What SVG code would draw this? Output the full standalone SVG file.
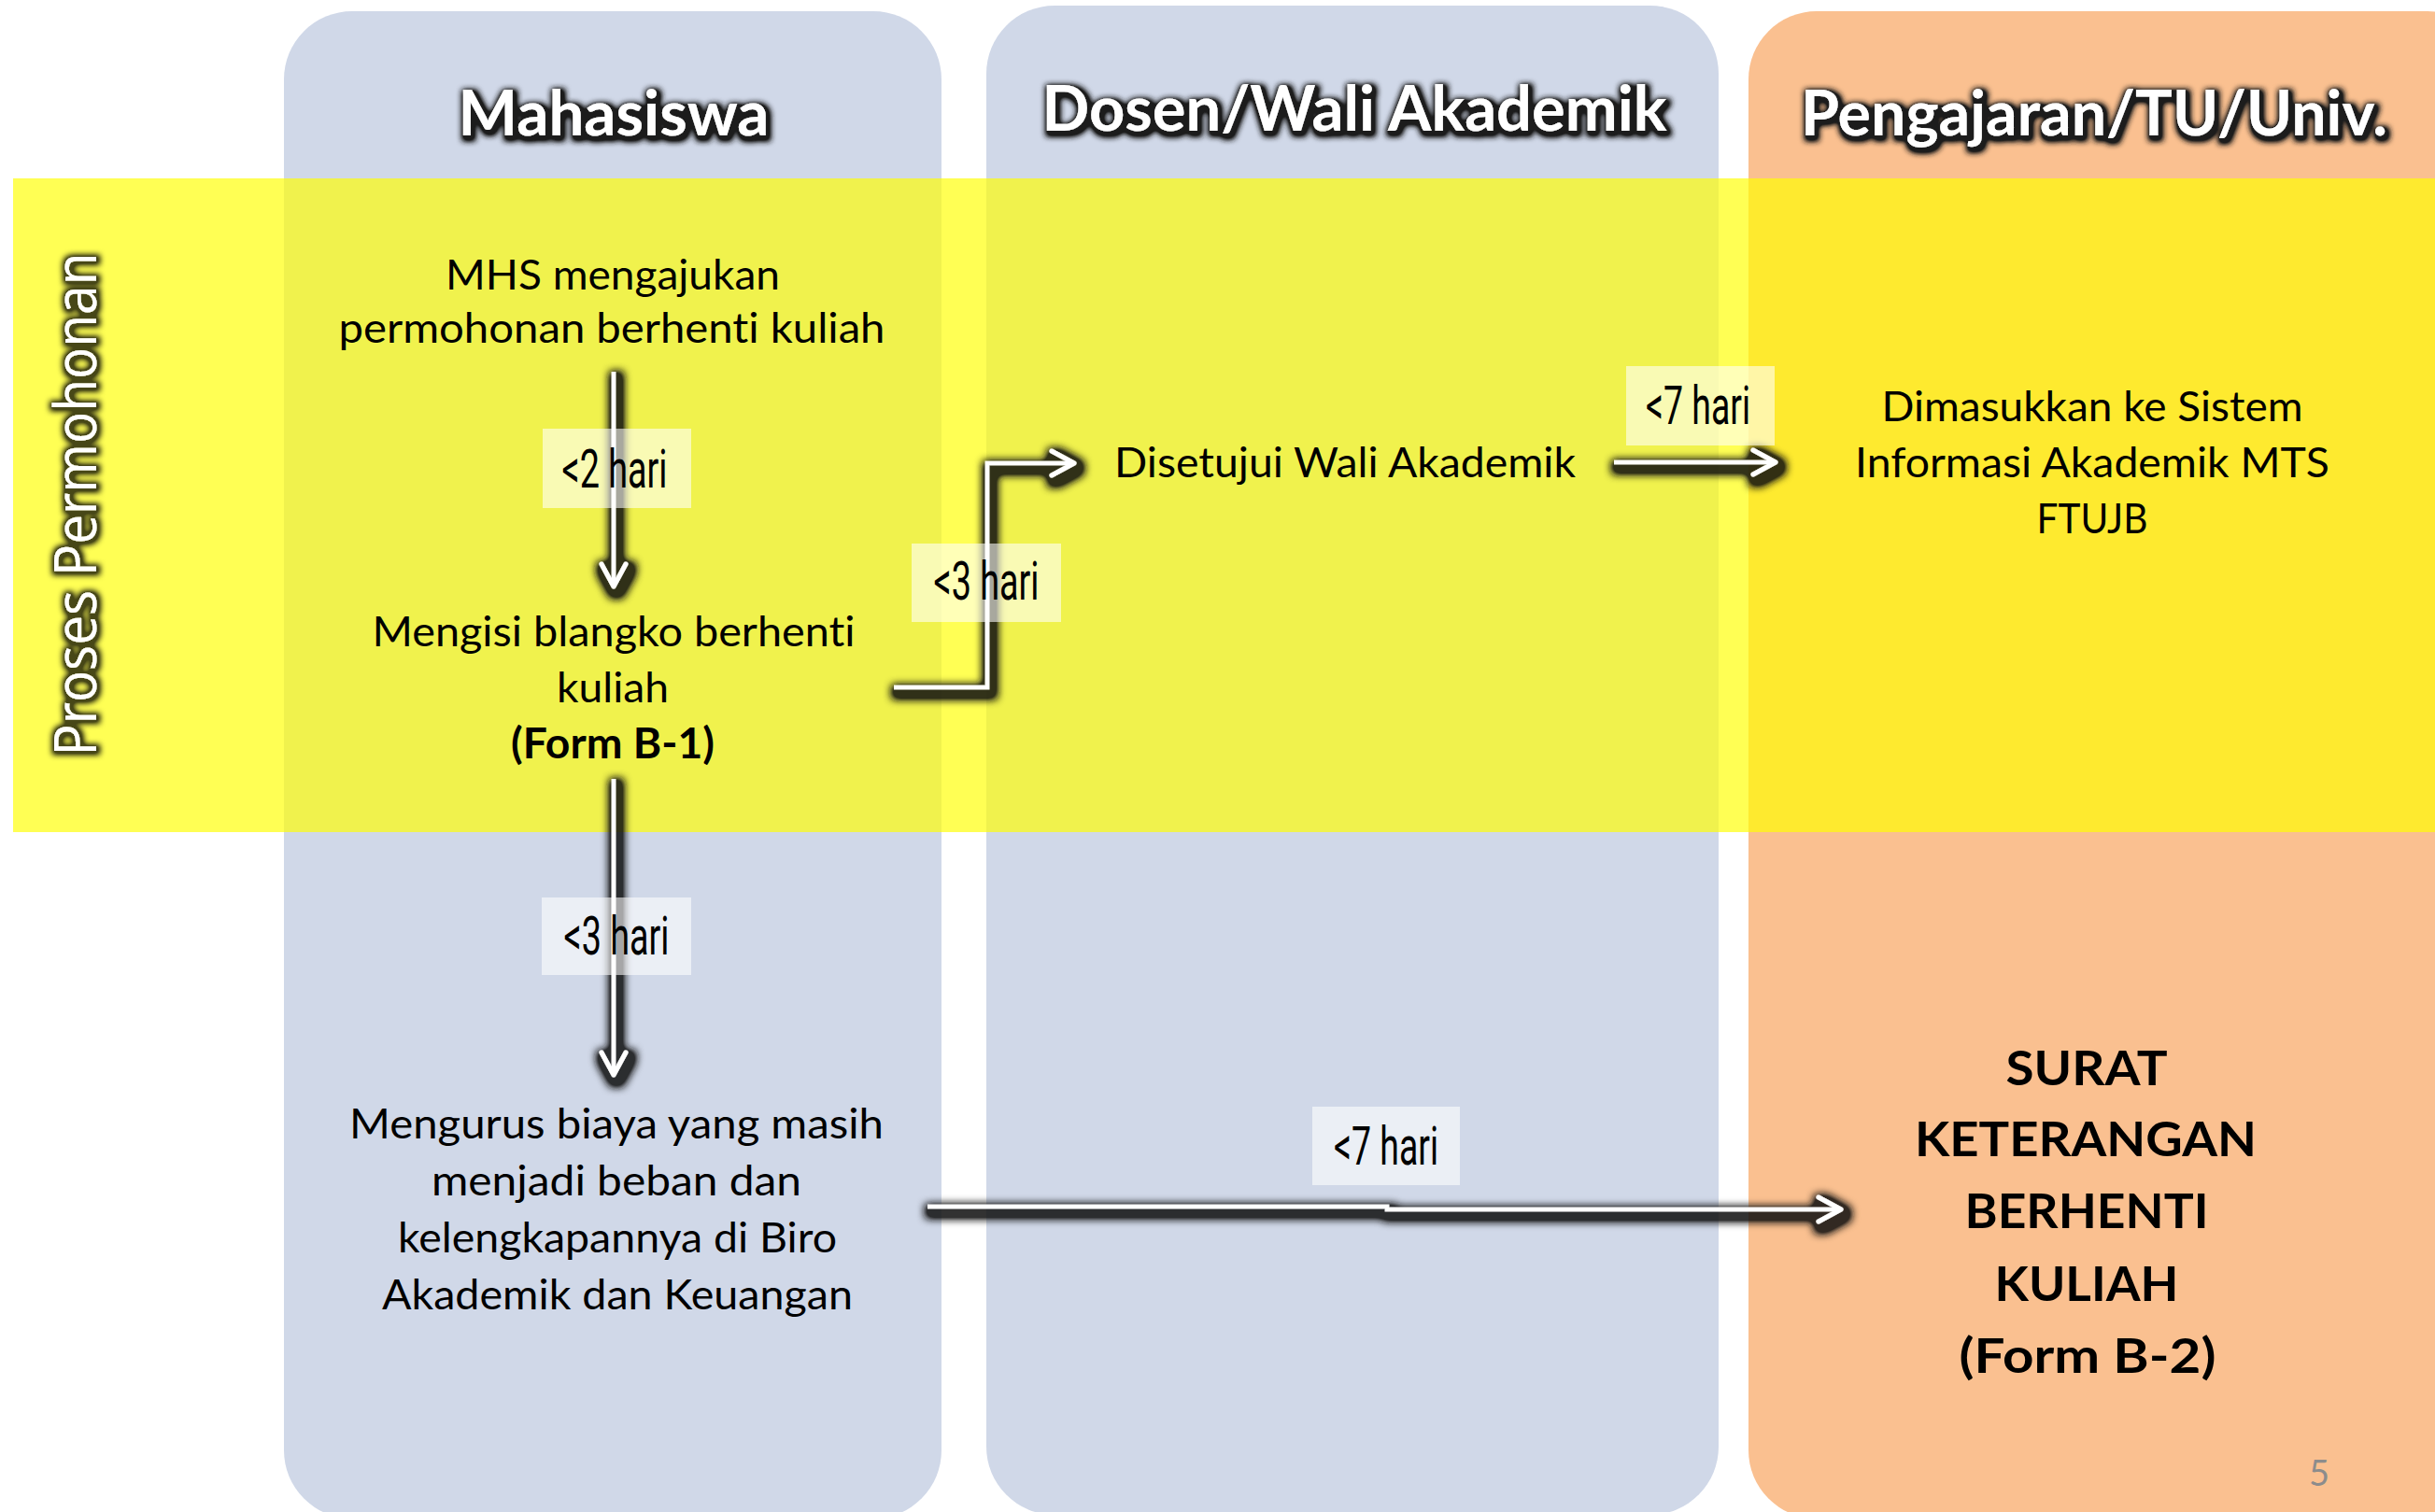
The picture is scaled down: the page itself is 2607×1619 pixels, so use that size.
<svg xmlns="http://www.w3.org/2000/svg" width="2607" height="1619" viewBox="0 0 2607 1619">
<defs>
<style>
text{font-variant-ligatures:none}
.lane-blue{fill:#D0D8E8}
.lane-orange{fill:#FAC090}
.band{fill:#FFFF00;fill-opacity:0.67}
.hdr{font-family:Lato,"Open Sans",sans-serif;font-weight:700;font-size:67px;fill:#FFFFFF;text-anchor:middle}
.side{font-family:"Open Sans","Noto Sans",sans-serif;font-size:63px;fill:#FFFFFF;text-anchor:middle}
.body{font-family:Lato,"Open Sans",sans-serif;font-size:45px;fill:#000000;text-anchor:middle}
.bold{font-weight:700}
.big{font-family:Lato,"Open Sans",sans-serif;font-weight:700;font-size:51px;fill:#000000;text-anchor:middle}
.lbl-box{fill:#FFFFFF;fill-opacity:0.58}
.lbl{font-family:"Liberation Sans Narrow",Roboto,sans-serif;font-size:57px;fill:#000000;text-anchor:middle}
.conn{fill:none;stroke:#FFFFFF;stroke-width:4.5;marker-end:url(#arr)}
.pg{font-family:Lato,"Open Sans",sans-serif;font-size:38px;fill:#8C8C8C;text-anchor:middle}
</style>
<marker id="arr" markerUnits="userSpaceOnUse" markerWidth="40" markerHeight="40" viewBox="-30 -20 40 40" refX="0" refY="0" orient="auto" overflow="visible">
<path d="M-24,-13 L0,0 L-24,13" fill="none" stroke="#FFFFFF" stroke-width="5" stroke-linecap="round" stroke-linejoin="round"/>
</marker>
<filter id="glow" filterUnits="userSpaceOnUse" x="0" y="0" width="2607" height="1619">
<feMorphology in="SourceAlpha" operator="dilate" radius="2.5" result="d"/>
<feGaussianBlur in="d" stdDeviation="3" result="b"/>
<feOffset in="b" dx="2" dy="3" result="o"/>
<feComponentTransfer in="o" result="o2"><feFuncA type="linear" slope="1.6"/></feComponentTransfer>
<feFlood flood-color="#1A1A1A" flood-opacity="1"/>
<feComposite in2="o2" operator="in" result="s"/>
<feMerge><feMergeNode in="s"/><feMergeNode in="SourceGraphic"/></feMerge>
</filter>
<filter id="sideglow" filterUnits="userSpaceOnUse" x="0" y="0" width="2607" height="1619">
<feMorphology in="SourceAlpha" operator="dilate" radius="2.5" result="d"/>
<feGaussianBlur in="d" stdDeviation="3" result="b"/>
<feOffset in="b" dx="1" dy="1" result="o"/>
<feComponentTransfer in="o" result="o2"><feFuncA type="linear" slope="1.5"/></feComponentTransfer>
<feFlood flood-color="#000000" flood-opacity="0.72"/>
<feComposite in2="o2" operator="in" result="s"/>
<feMerge><feMergeNode in="s"/><feMergeNode in="SourceGraphic"/></feMerge>
</filter>
<filter id="ashadow" filterUnits="userSpaceOnUse" x="0" y="0" width="2607" height="1619">
<feMorphology in="SourceAlpha" operator="dilate" radius="5" result="d"/>
<feGaussianBlur in="d" stdDeviation="5" result="b"/>
<feOffset in="b" dx="3" dy="5" result="o"/>
<feComponentTransfer in="o" result="o2"><feFuncA type="linear" slope="1.8"/></feComponentTransfer>
<feFlood flood-color="#111111" flood-opacity="0.85"/>
<feComposite in2="o2" operator="in" result="s"/>
<feMerge><feMergeNode in="s"/><feMergeNode in="SourceGraphic"/></feMerge>
</filter>
</defs>

<rect x="0" y="0" width="2607" height="1619" fill="#FFFFFF"/>

<g id="lane-mahasiswa">
<rect class="lane-blue" x="304" y="12" width="704" height="1614" rx="73" ry="73"/>
<text class="hdr" x="657" y="145" textLength="333" lengthAdjust="spacingAndGlyphs" filter="url(#glow)">Mahasiswa</text>
</g>
<g id="lane-dosen">
<rect class="lane-blue" x="1056" y="6" width="784" height="1616" rx="73" ry="73"/>
<text class="hdr" x="1450" y="140" textLength="669" lengthAdjust="spacingAndGlyphs" filter="url(#glow)">Dosen/Wali Akademik</text>
</g>
<g id="lane-pengajaran">
<rect class="lane-orange" x="1872" y="12" width="800" height="1614" rx="73" ry="73"/>
<text class="hdr" x="2242" y="145" textLength="628" lengthAdjust="spacingAndGlyphs" filter="url(#glow)">Pengajaran/TU/Univ.</text>
</g>

<g id="band-proses">
<rect class="band" x="14" y="191" width="2593" height="700"/>
<g filter="url(#sideglow)">
<text class="side" x="0" y="0" transform="translate(103,540) rotate(-90)" textLength="539" lengthAdjust="spacingAndGlyphs">Proses Permohonan</text>
</g>
</g>

<g id="connectors">
<g filter="url(#ashadow)">
<path class="conn" d="M657,398 V628"/>
<path class="conn" d="M957,736 H1057 V496 H1150"/>
<path class="conn" d="M1728,495 H1901"/>
<path class="conn" d="M657,834 V1151"/>
<path class="conn" d="M993,1292 H1485 V1295 H1971"/>
</g>
<g id="label-2hari">
<rect class="lbl-box" x="581" y="459" width="159" height="85"/>
<text class="lbl" x="658" y="522" textLength="113" lengthAdjust="spacingAndGlyphs">&lt;2 hari</text>
</g>
<g id="label-3hari-a">
<rect class="lbl-box" x="976" y="582" width="160" height="84"/>
<text class="lbl" x="1056" y="642" textLength="113" lengthAdjust="spacingAndGlyphs">&lt;3 hari</text>
</g>
<g id="label-7hari-a">
<rect class="lbl-box" x="1741" y="392" width="159" height="85"/>
<text class="lbl" x="1818" y="454" textLength="112" lengthAdjust="spacingAndGlyphs">&lt;7 hari</text>
</g>
<g id="label-3hari-b">
<rect class="lbl-box" x="580" y="961" width="160" height="83"/>
<text class="lbl" x="660" y="1022" textLength="113" lengthAdjust="spacingAndGlyphs">&lt;3 hari</text>
</g>
<g id="label-7hari-b">
<rect class="lbl-box" x="1405" y="1185" width="158" height="84"/>
<text class="lbl" x="1484" y="1247" textLength="112" lengthAdjust="spacingAndGlyphs">&lt;7 hari</text>
</g>
</g>

<g id="node-mengajukan">
<text class="body" x="656" y="310" textLength="358" lengthAdjust="spacingAndGlyphs">MHS mengajukan</text>
<text class="body" x="655" y="367" textLength="585" lengthAdjust="spacingAndGlyphs">permohonan berhenti kuliah</text>
</g>
<g id="node-mengisi">
<text class="body" x="657" y="692" textLength="517" lengthAdjust="spacingAndGlyphs">Mengisi blangko berhenti</text>
<text class="body" x="656" y="752" textLength="120" lengthAdjust="spacingAndGlyphs">kuliah</text>
<text class="body bold" x="656" y="812" textLength="218" lengthAdjust="spacingAndGlyphs">(Form B-1)</text>
</g>
<g id="node-disetujui">
<text class="body" x="1440" y="511" textLength="494" lengthAdjust="spacingAndGlyphs">Disetujui Wali Akademik</text>
</g>
<g id="node-dimasukkan">
<text class="body" x="2240" y="451" textLength="451" lengthAdjust="spacingAndGlyphs">Dimasukkan ke Sistem</text>
<text class="body" x="2240" y="511" textLength="508" lengthAdjust="spacingAndGlyphs">Informasi Akademik MTS</text>
<text class="body" x="2240" y="571" textLength="119" lengthAdjust="spacingAndGlyphs">FTUJB</text>
</g>
<g id="node-mengurus">
<text class="body" x="660" y="1219" textLength="572" lengthAdjust="spacingAndGlyphs">Mengurus biaya yang masih</text>
<text class="body" x="660" y="1280" textLength="396" lengthAdjust="spacingAndGlyphs">menjadi beban dan</text>
<text class="body" x="661" y="1341" textLength="470" lengthAdjust="spacingAndGlyphs">kelengkapannya di Biro</text>
<text class="body" x="661" y="1402" textLength="504" lengthAdjust="spacingAndGlyphs">Akademik dan Keuangan</text>
</g>
<g id="node-surat">
<text class="big" x="2234" y="1162" textLength="173" lengthAdjust="spacingAndGlyphs">SURAT</text>
<text class="big" x="2233" y="1238" textLength="366" lengthAdjust="spacingAndGlyphs">KETERANGAN</text>
<text class="big" x="2234" y="1315" textLength="261" lengthAdjust="spacingAndGlyphs">BERHENTI</text>
<text class="big" x="2234" y="1393" textLength="197" lengthAdjust="spacingAndGlyphs">KULIAH</text>
<text class="big" x="2235" y="1470" textLength="275" lengthAdjust="spacingAndGlyphs">(Form B-2)</text>
</g>
<g id="page-number">
<text class="pg" x="2483" y="1591">5</text>
</g>
</svg>
